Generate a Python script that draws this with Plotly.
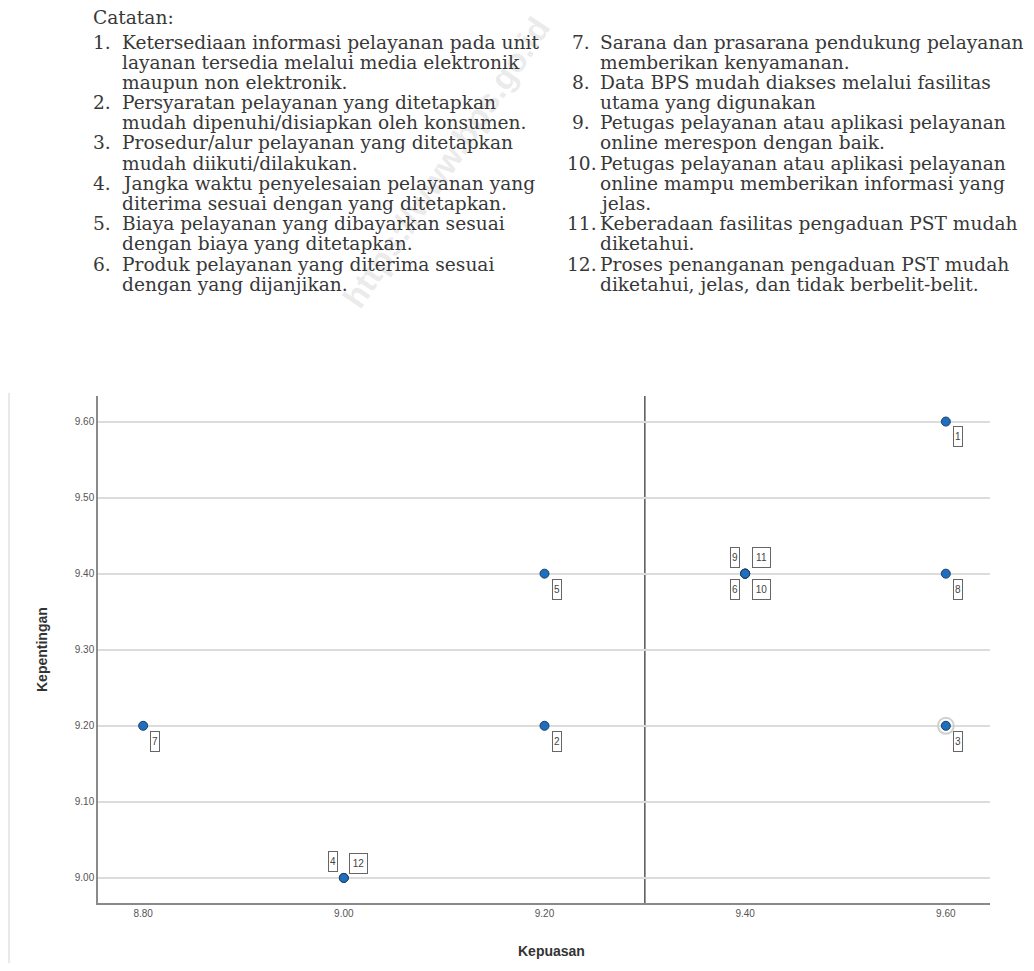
import plotly.graph_objects as go

# ---------------- data ----------------
labels = ["1", "2", "3", "4", "5", "6", "7", "8", "9", "10", "11", "12"]
kepuasan = [9.60, 9.20, 9.60, 9.00, 9.20, 9.40, 8.80, 9.60, 9.40, 9.40, 9.40, 9.00]
kepentingan = [9.60, 9.20, 9.20, 9.00, 9.40, 9.40, 9.20, 9.40, 9.40, 9.40, 9.40, 9.00]
ref_x = 9.30
ref_y = 9.30
x_ticks = [8.80, 9.00, 9.20, 9.40, 9.60]
y_ticks = [9.00, 9.10, 9.20, 9.30, 9.40, 9.50, 9.60]

notes_title = "Catatan:"
notes_left = [
    ("1.", ["Ketersediaan informasi pelayanan pada unit",
            "layanan tersedia melalui media elektronik",
            "maupun non elektronik."]),
    ("2.", ["Persyaratan pelayanan yang ditetapkan",
            "mudah dipenuhi/disiapkan oleh konsumen."]),
    ("3.", ["Prosedur/alur pelayanan yang ditetapkan",
            "mudah diikuti/dilakukan."]),
    ("4.", ["Jangka waktu penyelesaian pelayanan yang",
            "diterima sesuai dengan yang ditetapkan."]),
    ("5.", ["Biaya pelayanan yang dibayarkan sesuai",
            "dengan biaya yang ditetapkan."]),
    ("6.", ["Produk pelayanan yang diterima sesuai",
            "dengan yang dijanjikan."]),
]
notes_right = [
    ("7.", ["Sarana dan prasarana pendukung pelayanan",
            "memberikan kenyamanan."]),
    ("8.", ["Data BPS mudah diakses melalui fasilitas",
            "utama yang digunakan"]),
    ("9.", ["Petugas pelayanan atau aplikasi pelayanan",
            "online merespon dengan baik."]),
    ("10.", ["Petugas pelayanan atau aplikasi pelayanan",
             "online mampu memberikan informasi yang",
             "jelas."]),
    ("11.", ["Keberadaan fasilitas pengaduan PST mudah",
             "diketahui."]),
    ("12.", ["Proses penanganan pengaduan PST mudah",
             "diketahui, jelas, dan tidak berbelit-belit."]),
]
watermark = "https://www.bps.go.id"

# ---------------- styling / layout constants ----------------
# the page body has an 8px margin, so the figure is sized to fit the window
W, H = 1018, 955
label_shift = {  # (xshift px, yshift px) of each point label box
    "1": (12, -15), "2": (12, -16), "3": (12, -16), "4": (-11, 16),
    "5": (12, -16), "6": (-10, -16), "7": (12, -16), "8": (12, -16),
    "9": (-10, 16), "10": (16, -16), "11": (16, 16), "12": (15, 14),
}


def vx(p):  # window pixel -> paper x
    return (p - 8) / W


def vy(p):  # window pixel -> paper y
    return 1 - (p - 8) / H


fig = go.Figure()

# highlight ring on point 3
fig.add_trace(go.Scatter(
    x=[kepuasan[2]], y=[kepentingan[2]], mode="markers",
    marker=dict(size=16, color="rgba(0,0,0,0)", line=dict(color="#d0d0d0", width=2)),
    hoverinfo="skip", showlegend=False))

fig.add_trace(go.Scatter(
    x=kepuasan, y=kepentingan, mode="markers", text=labels,
    marker=dict(size=9, color="#1f6fbf", line=dict(color="#1b3f66", width=1)),
    showlegend=False))

annotations = []
# point labels (boxed)
for lab, xv, yv in zip(labels, kepuasan, kepentingan):
    dx, dy = label_shift[lab]
    annotations.append(dict(
        x=xv, y=yv, xref="x", yref="y", text=lab, showarrow=False,
        xanchor="center", yanchor="middle",
        xshift=dx, yshift=dy, font=dict(family="Arial", size=10, color="#444"),
        bordercolor="#666", borderwidth=1, borderpad=0, bgcolor="white",
        width=8 if len(lab) == 1 else 17, height=19))

# axis titles
annotations.append(dict(x=vx(551), y=vy(951), xref="paper", yref="paper",
                        xanchor="center", yanchor="middle",
                        text="<b>Kepuasan</b>", showarrow=False,
                        font=dict(family="Arial", size=14, color="#333")))
annotations.append(dict(x=vx(42), y=vy(650), xref="paper", yref="paper",
                        xanchor="center", yanchor="middle",
                        text="<b>Kepentingan</b>", showarrow=False, textangle=-90,
                        font=dict(family="Arial", size=14, color="#333")))

# watermark (drawn first so the notes sit on top)
annotations.append(dict(x=vx(446), y=vy(162), xref="paper", yref="paper",
                        xanchor="center", yanchor="middle",
                        text="<b>" + watermark + "</b>", showarrow=False, textangle=-56,
                        font=dict(family="Arial", size=33, color="rgba(150,150,150,0.2)")))

# notes text
serif = dict(family="DejaVu Serif", size=18.6, color="#383838")
annotations.append(dict(x=vx(91), y=vy(17), xref="paper", yref="paper",
                        text=notes_title, showarrow=False, xanchor="left",
                        yanchor="middle", font=serif))


def add_column(items, num_x, num_x2, text_x):
    row = 0
    for num, lines in items:
        nx = num_x if len(num) < 3 else num_x2
        annotations.append(dict(x=vx(nx), y=vy(42 + 20.2 * row), xref="paper",
                                yref="paper", text=num, showarrow=False,
                                xanchor="left", yanchor="middle", font=serif))
        for ln in lines:
            annotations.append(dict(x=vx(text_x), y=vy(42 + 20.2 * row),
                                    xref="paper", yref="paper", text=ln,
                                    showarrow=False, xanchor="left",
                                    yanchor="middle", font=serif))
            row += 1


add_column(notes_left, 91, 91, 120)
add_column(notes_right, 570, 565, 598)

shapes = [
    # reference lines
    dict(type="line", xref="x", yref="y", x0=8.755, x1=9.644, y0=ref_y, y1=ref_y,
         line=dict(color="#555", width=1.5), layer="below"),
    dict(type="line", xref="x", yref="y", x0=ref_x, x1=ref_x, y0=8.967, y1=9.636,
         line=dict(color="#555", width=1.5), layer="below"),
    # outer frame line at left
    dict(type="line", xref="paper", yref="paper", x0=vx(9), x1=vx(9),
         y0=vy(393), y1=0, line=dict(color="#e2e2e2", width=1.5)),
]

fig.update_layout(
    width=W, height=H,
    margin=dict(l=0, r=0, t=0, b=0),
    paper_bgcolor="white", plot_bgcolor="white",
    annotations=annotations, shapes=shapes,
    xaxis=dict(domain=[vx(98), vx(990)], range=[8.755, 9.644],
               tickvals=x_ticks, tickformat=".2f", showgrid=False, zeroline=False,
               showline=True, linecolor="#8a8a8a", linewidth=2, ticks="",
               tickfont=dict(family="Arial", size=10, color="#555"),
               automargin=False, fixedrange=True),
    yaxis=dict(domain=[vy(903), vy(396)], range=[8.967, 9.6336],
               tickvals=y_ticks, tickformat=".2f", showgrid=True,
               gridcolor="#dcdcdc", gridwidth=1.5, zeroline=False,
               showline=True, linecolor="#8a8a8a", linewidth=1.5, ticks="",
               tickfont=dict(family="Arial", size=10, color="#555"),
               automargin=False, fixedrange=True),
)

fig.write_html("out.html")
